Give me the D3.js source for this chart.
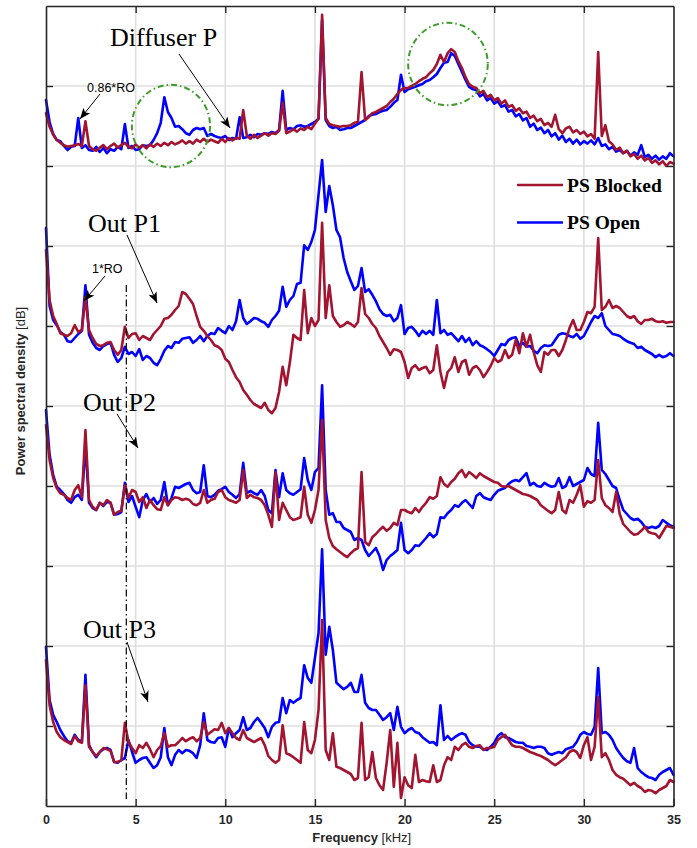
<!DOCTYPE html>
<html>
<head>
<meta charset="utf-8">
<script src="https://cdn.jsdelivr.net/npm/d3@7/dist/d3.min.js"></script>
<style>
  body { margin: 0; background: #fff; }
  svg { display: block; }
</style>
</head>
<body>
<svg id="chart" width="697" height="848"></svg>
<script>
// Spectra are sampled on a regular 0.2 kHz grid, 0 to 35 kHz (176 bins).
const FREQ_STEP_KHZ = 0.2;
const N_BINS = 176;
const frequencyKHz = Array.from({ length: N_BINS }, (_, i) => +(i * FREQ_STEP_KHZ).toFixed(1));

const xTickValues = [0, 5, 10, 15, 20, 25, 30, 35];
const yTickValues = [10, 20, 30, 40, 50, 60, 70, 80, 90];
const seriesNames = ["PS Blocked", "PS Open"];

// Power spectral density [dB], stacked with an offset per probe.
// Diffuser P
const diffuserBlocked = [
  86.6, 84.9, 83.9, 83.25, 82.9, 82.6, 82.4, 82.5, 82.6, 82.75,
  82.5, 85.6, 82.5, 82.1, 81.9, 82.3, 82.6, 82.1, 82.5, 82.8,
  82.3, 82.6, 82.9, 82.4, 82.2, 82.7, 82.3, 82.6, 82.2, 82.7,
  82.4, 82.8, 82.5, 82.9, 82.6, 83.0, 82.7, 82.9, 83.2, 82.8,
  83.1, 82.8, 83.3, 83.0, 83.4, 83.0, 83.3, 83.1, 82.9, 83.4,
  83.0, 83.5, 83.2, 83.5, 83.4, 87.0, 83.8, 83.4, 83.9, 83.5,
  83.8, 84.1, 83.8, 84.1, 84.0, 84.4, 87.9, 84.1, 84.3, 84.6,
  84.3, 84.7, 84.5, 84.9, 84.6, 85.3, 85.9, 98.9, 86.0, 85.25,
  85.1, 85.0, 84.9, 85.0, 85.0, 85.1, 85.4, 85.5, 91.75, 85.75,
  86.1, 86.6, 86.75, 87.0, 87.25, 87.5, 88.0, 88.4, 89.0, 89.5,
  89.75, 89.75, 90.0, 90.25, 90.6, 90.9, 91.1, 91.6, 92.0, 92.75,
  93.9, 93.0, 94.1, 94.6, 94.25, 93.1, 92.25, 91.1, 90.25, 89.9,
  89.75, 89.1, 89.4, 88.6, 88.9, 88.2, 88.5, 87.8, 88.2, 87.4,
  87.6, 86.9, 87.2, 86.6, 86.8, 86.0, 86.3, 85.6, 85.9, 85.1,
  85.4, 84.9, 86.4, 84.6, 84.1, 84.7, 84.9, 84.2, 84.5, 84.0,
  84.3, 83.7, 84.0, 83.4, 94.25, 83.75, 85.1, 83.1, 82.7, 82.0,
  82.3, 81.6, 81.9, 81.2, 81.5, 80.9, 81.3, 80.7, 81.0, 80.4,
  80.7, 80.2, 80.6, 80.0, 80.5, 80.3
];
const diffuserOpen = [
  88.25, 85.5, 84.0, 83.25, 83.1, 82.5, 82.0, 82.4, 82.5, 86.0,
  82.25, 82.6, 82.0, 81.9, 82.4, 81.75, 82.25, 81.6, 82.1, 81.9,
  82.4, 82.1, 85.25, 82.25, 82.5, 82.0, 82.1, 82.6, 82.5, 82.6,
  83.25, 84.1, 85.4, 88.6, 86.75, 86.0, 84.9, 85.0, 84.6, 84.1,
  83.9, 84.5, 84.75, 84.6, 84.75, 83.75, 84.0, 83.75, 83.6, 83.5,
  83.75, 83.25, 83.5, 83.4, 86.1, 83.5, 83.6, 83.9, 83.6, 84.0,
  83.9, 84.1, 84.0, 84.25, 84.1, 84.5, 89.4, 84.5, 84.75, 84.6,
  85.0, 85.1, 84.9, 85.0, 85.25, 85.5, 85.9, 98.25, 85.75, 85.0,
  84.75, 84.9, 84.5, 84.6, 84.75, 84.75, 85.0, 85.25, 85.5, 85.75,
  86.25, 86.4, 86.5, 86.75, 86.9, 87.0, 87.4, 87.9, 88.25, 91.4,
  89.25, 89.6, 89.75, 89.9, 90.1, 90.25, 90.6, 90.75, 91.1, 91.5,
  92.25, 92.9, 93.0, 94.1, 93.75, 92.75, 91.75, 90.75, 89.9, 89.6,
  89.5, 88.7, 89.0, 88.2, 88.5, 87.8, 88.1, 87.4, 87.6, 86.8,
  87.0, 86.2, 86.5, 85.7, 86.0, 84.9, 85.3, 84.5, 84.8, 84.1,
  84.5, 83.7, 84.1, 83.3, 83.8, 83.0, 83.4, 82.8, 83.3, 82.7,
  83.1, 82.8, 83.2, 82.7, 83.5, 82.5, 82.7, 82.1, 82.4, 81.8,
  82.0, 81.6, 81.9, 81.3, 81.7, 81.4, 82.6, 81.1, 81.4, 80.9,
  81.3, 80.8, 81.2, 80.9, 81.6, 81.2
];

// Out P1
const outP1Blocked = [
  69.5, 63.25, 61.25, 60.25, 59.1, 58.9, 58.75, 59.1, 60.1, 59.25,
  59.5, 63.6, 59.5, 58.5, 57.75, 57.5, 57.6, 57.9, 58.0, 57.0,
  56.4, 57.0, 59.9, 58.5, 59.0, 59.1, 58.25, 58.75, 58.5, 58.25,
  59.0, 59.5, 60.0, 60.9, 61.0, 61.4, 62.0, 62.5, 64.25, 64.0,
  63.4, 62.75, 61.25, 59.9, 59.4, 58.75, 58.25, 57.6, 57.4, 57.0,
  55.9, 55.5, 54.5, 53.6, 53.0, 52.0, 51.4, 50.75, 50.25, 50.0,
  49.75, 50.4, 49.5, 49.1, 49.75, 51.75, 54.9, 52.6, 55.4, 58.9,
  58.5, 58.25, 64.5, 59.1, 61.0, 60.0, 60.75, 72.9, 61.0, 65.1,
  61.25, 60.5, 59.9, 60.1, 60.5, 60.25, 59.9, 60.5, 64.75, 61.5,
  61.0, 60.25, 59.75, 58.75, 58.0, 57.25, 56.4, 57.1, 57.0, 56.75,
  55.5, 53.5, 54.75, 55.1, 54.5, 54.75, 54.9, 54.1, 54.5, 57.6,
  54.25, 52.25, 54.25, 54.75, 56.1, 54.25, 55.5, 55.75, 53.9, 54.75,
  55.0, 54.5, 53.6, 54.25, 55.0, 56.0, 55.5, 55.75, 57.0, 56.0,
  56.4, 58.25, 56.6, 59.1, 57.4, 58.9, 56.75, 55.1, 54.25, 56.75,
  56.4, 57.0, 57.0, 56.25, 57.0, 58.25, 59.75, 60.75, 59.5, 59.5,
  60.5, 61.75, 61.6, 62.4, 71.0, 62.0, 62.4, 63.25, 62.25, 62.5,
  62.25, 61.75, 61.25, 61.0, 61.25, 60.6, 60.25, 60.75, 60.75, 60.9,
  60.6, 60.5, 60.6, 60.4, 60.5, 60.5
];
const outP1Open = [
  72.25, 62.5, 60.75, 60.1, 59.25, 58.9, 58.1, 58.0, 58.5, 59.0,
  59.4, 65.1, 58.9, 57.9, 57.25, 57.0, 57.5, 57.75, 57.9, 56.4,
  55.5, 56.0, 57.4, 56.5, 56.75, 56.25, 57.1, 55.75, 56.25, 56.0,
  55.4, 55.1, 55.9, 56.9, 57.5, 57.25, 58.0, 57.9, 58.4, 58.5,
  58.6, 57.9, 58.25, 58.75, 58.1, 58.75, 59.1, 59.0, 59.75, 59.4,
  59.1, 60.0, 59.5, 60.6, 63.25, 61.0, 60.25, 60.6, 61.0, 60.9,
  60.6, 60.4, 59.9, 60.75, 61.25, 61.9, 64.9, 62.4, 63.25, 63.75,
  65.25, 65.4, 70.1, 69.5, 70.5, 72.0, 76.4, 80.75, 74.25, 77.5,
  75.1, 72.0, 71.1, 68.5, 66.75, 65.6, 64.5, 65.0, 67.25, 64.25,
  64.6, 63.9, 63.1, 62.1, 61.5, 61.25, 61.4, 60.6, 61.0, 62.6,
  59.0, 59.75, 59.9, 59.4, 58.75, 59.4, 59.0, 59.4, 58.9, 63.25,
  59.1, 59.5, 58.9, 59.1, 58.6, 58.1, 58.75, 58.0, 58.5, 57.6,
  58.1, 57.6, 57.4, 57.1, 56.75, 56.25, 57.0, 57.75, 57.6, 58.25,
  58.5, 58.6, 57.5, 57.9, 57.4, 57.5, 56.9, 56.6, 57.25, 57.6,
  57.5, 57.6, 58.25, 58.9, 59.1, 59.0, 58.75, 58.6, 59.0, 58.4,
  58.75, 59.6, 60.5, 61.25, 61.0, 61.6, 60.0, 59.5, 59.0, 58.9,
  58.75, 58.4, 58.1, 57.9, 57.75, 57.25, 57.4, 57.0, 56.75, 56.5,
  56.1, 56.4, 56.1, 56.25, 56.6, 56.25
];

// Out P2
const outP2Blocked = [
  47.6, 43.25, 41.0, 39.75, 39.1, 38.9, 38.5, 38.25, 39.5, 40.1,
  38.6, 47.0, 38.25, 37.4, 37.0, 37.9, 37.6, 38.25, 37.9, 36.4,
  36.75, 36.9, 40.1, 38.5, 39.5, 39.25, 38.0, 38.6, 37.25, 38.25,
  37.6, 37.1, 37.0, 38.6, 37.6, 38.25, 38.6, 38.5, 38.25, 38.4,
  38.25, 37.75, 37.6, 37.9, 39.5, 37.9, 38.25, 38.4, 39.25, 39.5,
  38.6, 38.25, 38.1, 37.9, 38.25, 42.0, 38.5, 38.9, 38.6, 38.5,
  38.25, 37.6, 36.4, 34.9, 41.75, 35.75, 37.9, 37.0, 36.1, 35.75,
  35.9, 36.1, 39.9, 36.4, 35.4, 37.0, 39.5, 48.25, 35.75, 33.5,
  32.5, 32.1, 31.75, 31.4, 31.1, 31.6, 32.0, 32.25, 41.75, 33.0,
  32.6, 33.6, 34.0, 34.5, 34.9, 34.4, 34.75, 35.4, 35.1, 37.0,
  37.0, 36.75, 36.6, 37.25, 36.75, 37.4, 37.9, 38.6, 38.4, 38.75,
  41.1, 40.25, 39.9, 40.5, 40.9, 41.6, 42.0, 41.1, 41.75, 41.4,
  41.0, 41.6, 41.25, 41.0, 40.75, 40.5, 40.4, 40.0, 39.9, 40.0,
  39.75, 39.5, 39.25, 39.0, 38.9, 38.75, 38.5, 38.25, 37.6, 37.25,
  36.9, 36.6, 37.0, 39.25, 37.0, 36.6, 38.25, 37.9, 38.9, 40.1,
  37.4, 38.1, 37.9, 38.25, 43.25, 38.5, 37.6, 37.25, 36.75, 39.25,
  36.5, 35.25, 34.75, 34.25, 33.9, 34.0, 34.4, 34.9, 34.25, 34.1,
  34.0, 33.5, 34.25, 35.0, 34.9, 34.75
];
const outP2Open = [
  49.5, 43.9, 41.4, 39.9, 39.5, 39.0, 38.25, 37.9, 38.6, 38.9,
  38.25, 45.1, 37.9, 37.25, 37.0, 37.9, 37.5, 38.0, 37.9, 36.4,
  36.5, 36.75, 40.4, 38.0, 38.75, 37.4, 36.1, 38.25, 39.0, 38.0,
  38.5, 37.75, 38.25, 40.5, 37.6, 38.5, 39.9, 39.75, 40.0, 40.25,
  40.4, 39.5, 39.1, 39.25, 42.6, 38.75, 38.6, 38.9, 39.4, 39.6,
  39.9, 39.25, 38.9, 38.5, 39.0, 42.9, 39.1, 39.4, 39.1, 38.9,
  39.5, 38.75, 37.0, 36.6, 42.0, 38.6, 41.6, 39.5, 39.1, 38.9,
  39.25, 39.6, 43.5, 40.75, 39.5, 41.75, 42.25, 52.6, 39.5, 36.4,
  36.6, 35.5, 35.5, 34.75, 34.5, 34.25, 33.25, 33.5, 33.25, 32.0,
  31.25, 31.75, 32.25, 31.25, 29.5, 30.75, 31.25, 31.6, 32.0, 35.4,
  32.0, 31.6, 32.0, 32.6, 32.5, 33.0, 33.5, 34.1, 33.6, 34.0,
  36.1, 36.0, 36.6, 37.0, 37.6, 37.4, 37.9, 38.25, 37.75, 37.25,
  38.75, 39.1, 38.6, 38.4, 38.25, 38.9, 39.4, 39.6, 39.75, 40.25,
  40.6, 40.75, 40.6, 41.1, 41.6, 40.1, 40.4, 40.0, 39.9, 40.4,
  40.1, 39.9, 40.0, 41.0, 39.75, 40.0, 41.1, 40.0, 40.25, 40.5,
  40.75, 42.25, 41.5, 41.25, 47.9, 42.0, 41.5, 40.75, 40.0, 39.75,
  38.25, 37.0, 36.5, 36.0, 35.75, 35.9, 35.5, 34.9, 34.75, 34.9,
  34.75, 35.0, 35.75, 35.4, 35.1, 34.9
];

// Out P3
const outP3Blocked = [
  18.25, 12.6, 10.5, 9.25, 8.6, 8.25, 8.0, 7.75, 8.75, 8.1,
  7.9, 15.1, 7.4, 6.75, 6.25, 6.75, 7.25, 7.1, 6.9, 5.5,
  5.5, 5.75, 10.4, 8.0, 7.25, 6.6, 7.6, 7.25, 7.9, 7.1,
  6.1, 7.0, 7.5, 9.1, 7.4, 7.6, 7.6, 8.0, 8.5, 8.1,
  8.4, 8.6, 8.1, 8.5, 10.5, 8.9, 9.25, 9.6, 9.5, 10.4,
  9.1, 9.75, 9.1, 8.5, 8.25, 9.5, 8.5, 8.25, 8.0, 8.25,
  8.5, 7.6, 6.25, 5.75, 5.4, 5.75, 10.1, 6.6, 6.4, 6.1,
  5.75, 5.4, 10.5, 7.0, 6.6, 8.25, 12.0, 23.25, 7.0, 5.75,
  9.1, 4.9, 4.75, 4.5, 4.25, 4.0, 3.25, 3.5, 10.4, 3.25,
  3.6, 6.75, 3.5, 2.6, 2.0, 5.4, 9.5, 2.4, 7.9, 1.0,
  3.6, 2.6, 2.25, 6.4, 3.0, 3.25, 3.1, 3.0, 5.1, 3.0,
  3.25, 5.1, 6.1, 5.75, 7.4, 7.0, 7.6, 7.9, 7.4, 7.25,
  7.5, 7.6, 7.0, 7.25, 7.25, 7.4, 8.25, 8.6, 8.9, 8.25,
  7.6, 7.4, 7.4, 7.25, 7.0, 6.75, 6.6, 6.4, 6.25, 6.0,
  5.75, 5.4, 5.1, 5.4, 5.75, 6.1, 6.75, 7.0, 6.75, 6.0,
  7.6, 8.6, 5.75, 7.4, 13.6, 6.1, 6.6, 5.75, 4.5, 3.9,
  3.6, 3.4, 3.0, 2.6, 2.9, 2.5, 2.25, 1.75, 2.0, 1.9,
  1.6, 2.0, 2.25, 2.5, 3.25, 3.0
];
const outP3Open = [
  19.9, 13.25, 11.4, 10.5, 9.5, 8.75, 8.1, 7.9, 8.9, 8.25,
  8.0, 16.4, 7.6, 6.75, 6.1, 6.75, 7.1, 7.25, 7.0, 5.5,
  5.4, 5.75, 6.0, 8.25, 6.75, 5.4, 5.75, 6.0, 6.1, 5.4,
  4.75, 5.1, 6.1, 9.75, 6.1, 5.1, 6.4, 7.0, 6.6, 7.0,
  6.9, 6.6, 6.0, 7.6, 11.6, 8.25, 8.0, 7.9, 8.5, 8.6,
  7.4, 9.75, 8.6, 9.1, 9.5, 11.1, 9.5, 9.75, 10.5, 11.0,
  10.4, 9.75, 8.6, 9.9, 10.4, 10.5, 13.5, 11.6, 13.25, 12.9,
  13.25, 13.5, 17.6, 16.0, 15.4, 18.5, 21.6, 32.1, 18.9, 22.4,
  19.5, 15.4, 15.0, 14.6, 14.9, 15.4, 14.25, 14.25, 16.4, 12.9,
  12.25, 12.0, 12.0, 11.4, 10.75, 11.1, 11.6, 9.5, 12.4, 9.9,
  9.1, 9.5, 9.75, 9.25, 9.1, 8.6, 8.25, 7.9, 8.0, 7.6,
  12.6, 8.25, 8.75, 8.25, 8.6, 8.9, 9.1, 8.9, 8.0, 7.6,
  7.4, 7.4, 7.1, 7.0, 7.4, 7.9, 8.75, 9.1, 8.6, 8.5,
  8.25, 8.0, 7.9, 7.9, 7.5, 7.4, 7.25, 7.4, 7.4, 7.25,
  6.6, 6.4, 6.6, 6.75, 6.6, 7.1, 7.25, 7.4, 8.0, 8.9,
  9.25, 9.0, 8.9, 9.9, 17.25, 9.1, 9.25, 8.9, 8.25, 7.25,
  6.6, 6.0, 5.6, 5.4, 7.25, 4.75, 4.25, 3.9, 3.6, 3.5,
  3.25, 3.9, 4.25, 4.5, 4.75, 3.9
];

// Probes, top to bottom
const probeLabels = ["Diffuser P", "Out P1", "Out P2", "Out P3"];
const blockedSpectra = [diffuserBlocked, outP1Blocked, outP2Blocked, outP3Blocked];
const openSpectra = [diffuserOpen, outP1Open, outP2Open, outP3Open];

// Rotor-order marker frequency [kHz]
const roMarkerKHz = 4.48;

// ---------------------------------------------------------------------------
const COLORS = { blocked: "#a2142f", open: "#0000ff", grid: "#dedede", axis: "#262626", circle: "#3f9c2b" };
const W = 697, H = 848;
const plot = { left: 46, right: 673.5, top: 6, bottom: 806 };

const svg = d3.select("#chart");
svg.append("rect").attr("width", W).attr("height", H).attr("fill", "#fff");

const x = d3.scaleLinear().domain([0, 35]).range([plot.left, plot.right]);
const y = d3.scaleLinear().domain([0, 100]).range([plot.bottom, plot.top]);

// Arrowhead marker for annotations
const defs = svg.append("defs");
defs.append("marker")
  .attr("id", "arrowhead")
  .attr("viewBox", "0 0 10 10")
  .attr("refX", 10).attr("refY", 5)
  .attr("markerWidth", 11).attr("markerHeight", 11)
  .attr("markerUnits", "userSpaceOnUse")
  .attr("orient", "auto")
  .append("path")
  .attr("d", "M0,1 L10,5 L0,9 L2.5,5 Z")
  .attr("fill", "#000");

// Grid
const grid = svg.append("g").attr("class", "grid");
grid.selectAll("line.vx")
  .data(xTickValues.filter(v => v > 0 && v < 35))
  .join("line")
  .attr("x1", d => x(d)).attr("x2", d => x(d))
  .attr("y1", plot.top).attr("y2", plot.bottom)
  .attr("stroke", COLORS.grid).attr("stroke-width", 1.6);
grid.selectAll("line.hy")
  .data(yTickValues)
  .join("line")
  .attr("x1", plot.left).attr("x2", plot.right)
  .attr("y1", d => y(d)).attr("y2", d => y(d))
  .attr("stroke", COLORS.grid).attr("stroke-width", 1.6);

// Spectra: blocked drawn over open in each probe
const line = d3.line()
  .x((d, i) => x(frequencyKHz[i]))
  .y(d => y(d))
  .curve(d3.curveLinear);

const curves = svg.append("g").attr("class", "curves")
  .attr("fill", "none").attr("stroke-linejoin", "round").attr("stroke-linecap", "round");
probeLabels.forEach((name, k) => {
  curves.append("path").datum(openSpectra[k])
    .attr("d", line).attr("stroke", COLORS.open).attr("stroke-width", 2.6);
  curves.append("path").datum(blockedSpectra[k])
    .attr("d", line).attr("stroke", COLORS.blocked).attr("stroke-width", 2.6);
});

// Axes (inward ticks on all four sides)
const axisG = svg.append("g").attr("class", "axes");
const styleAxis = g => {
  g.selectAll(".domain").attr("stroke", COLORS.axis).attr("stroke-width", 1.6);
  g.selectAll(".tick line").attr("stroke", COLORS.axis).attr("stroke-width", 1.4);
};
axisG.append("g").attr("transform", `translate(0,${plot.bottom})`)
  .call(d3.axisBottom(x).tickValues(xTickValues).tickSize(-7).tickSizeOuter(0).tickPadding(9).tickFormat(d3.format("d")))
  .call(styleAxis)
  .call(g => g.selectAll(".tick text")
    .attr("fill", COLORS.axis)
    .style("font", "bold 12.5px 'Liberation Sans', Arial, sans-serif"));
axisG.append("g").attr("transform", `translate(0,${plot.top})`)
  .call(d3.axisTop(x).tickValues(xTickValues.filter(v => v > 0 && v < 35)).tickSize(-7).tickSizeOuter(0).tickFormat(""))
  .call(styleAxis);
axisG.append("g").attr("transform", `translate(${plot.left},0)`)
  .call(d3.axisLeft(y).tickValues(yTickValues).tickSize(-7).tickSizeOuter(0).tickFormat(""))
  .call(styleAxis);
axisG.append("g").attr("transform", `translate(${plot.right},0)`)
  .call(d3.axisRight(y).tickValues(yTickValues).tickSize(-7).tickSizeOuter(0).tickFormat(""))
  .call(styleAxis);

// Axis titles
const xTitle = svg.append("text")
  .attr("x", (plot.left + plot.right) / 2 + 2).attr("y", 842)
  .attr("text-anchor", "middle").attr("fill", COLORS.axis)
  .style("font-family", "'Liberation Sans', Arial, sans-serif").style("font-size", "13px");
xTitle.append("tspan").attr("font-weight", "bold").text("Frequency");
xTitle.append("tspan").text(" [kHz]");

const yTitle = svg.append("text")
  .attr("transform", "translate(25,391) rotate(-90)")
  .attr("text-anchor", "middle").attr("fill", COLORS.axis)
  .style("font-family", "'Liberation Sans', Arial, sans-serif").style("font-size", "13px");
yTitle.append("tspan").attr("font-weight", "bold").text("Power spectral density");
yTitle.append("tspan").text(" [dB]");

// Vertical dash-dot marker
svg.append("line")
  .attr("x1", x(roMarkerKHz)).attr("x2", x(roMarkerKHz))
  .attr("y1", 285).attr("y2", 799)
  .attr("stroke", "#000").attr("stroke-width", 1.2)
  .attr("stroke-dasharray", "7,3,1.5,3");

// Highlight circles on the diffuser spectrum
const circles = [
  { f: 6.97, db: 85.0, rf: 2.18, rdb: 5.15 },
  { f: 22.42, db: 92.75, rf: 2.22, rdb: 5.15 }
];
svg.append("g").selectAll("ellipse").data(circles).join("ellipse")
  .attr("cx", d => x(d.f)).attr("cy", d => y(d.db))
  .attr("rx", d => x(d.rf) - x(0)).attr("ry", d => y(0) - y(d.rdb))
  .attr("fill", "none").attr("stroke", COLORS.circle).attr("stroke-width", 2)
  .attr("stroke-dasharray", "6,3,1.5,3");

// Probe labels with arrows
const serif = "'Liberation Serif', 'Times New Roman', serif";
const labelPos = [
  { x: 110, y: 46, from: [179, 54], to: [230, 128] },
  { x: 88, y: 232, from: [127, 235], to: [157, 303] },
  { x: 83, y: 411, from: [117, 414], to: [138, 448] },
  { x: 83, y: 638, from: [127, 642], to: [148, 702] }
];
const notes = svg.append("g").attr("class", "notes");
probeLabels.forEach((name, k) => {
  const p = labelPos[k];
  notes.append("text").attr("x", p.x).attr("y", p.y)
    .style("font-family", serif).style("font-size", "26px").attr("fill", "#000")
    .text(name);
  notes.append("line")
    .attr("x1", p.from[0]).attr("y1", p.from[1]).attr("x2", p.to[0]).attr("y2", p.to[1])
    .attr("stroke", "#000").attr("stroke-width", 1)
    .attr("marker-end", "url(#arrowhead)");
});

// Rotor-order callouts
const roNotes = [
  { text: "0.86*RO", x: 87, y: 92, from: [100, 94], to: [80, 119] },
  { text: "1*RO", x: 92, y: 273, from: [105, 276], to: [84, 301] }
];
roNotes.forEach(n => {
  notes.append("text").attr("x", n.x).attr("y", n.y)
    .style("font-family", "'Liberation Sans', Arial, sans-serif").style("font-size", "12.5px")
    .attr("fill", "#000").text(n.text);
  notes.append("line")
    .attr("x1", n.from[0]).attr("y1", n.from[1]).attr("x2", n.to[0]).attr("y2", n.to[1])
    .attr("stroke", "#000").attr("stroke-width", 1)
    .attr("marker-end", "url(#arrowhead)");
});

// Legend
const legend = svg.append("g").attr("class", "legend");
const legendRows = [
  { name: seriesNames[0], color: COLORS.blocked, y: 185 },
  { name: seriesNames[1], color: COLORS.open, y: 222.5 }
];
legendRows.forEach(r => {
  legend.append("line")
    .attr("x1", 517).attr("x2", 563).attr("y1", r.y).attr("y2", r.y)
    .attr("stroke", r.color).attr("stroke-width", 2.6);
  legend.append("text")
    .attr("x", 567).attr("y", r.y + 6.5)
    .style("font-family", serif).style("font-weight", "bold").style("font-size", "19.5px")
    .attr("fill", "#000").text(r.name);
});
</script>
</body>
</html>
